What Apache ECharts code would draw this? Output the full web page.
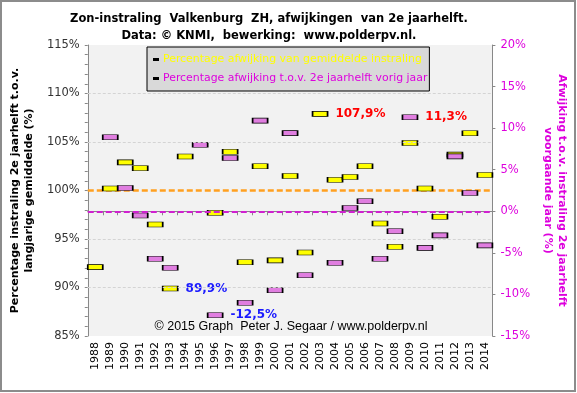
<!DOCTYPE html>
<html>
<head>
<meta charset="utf-8">
<script src="https://cdn.jsdelivr.net/npm/echarts@6/dist/echarts.min.js"></script>
<style>
html,body{margin:0;padding:0;background:#ffffff;}
#chart{width:577px;height:393px;}
</style>
</head>
<body>
<div id="chart"></div>
<script>
const years = ['1988','1989','1990','1991','1992','1993','1994','1995','1996','1997','1998','1999','2000','2001','2002','2003','2004','2005','2006','2007','2008','2009','2010','2011','2012','2013','2014'];
// Percentage instraling 2e jaarhelft t.o.v. langjarig gemiddelde (%)
const yellowVals = [92.1,100.2,102.9,102.3,96.5,89.9,103.5,111.7,97.7,104.0,92.6,102.5,92.8,101.5,93.6,107.9,101.1,101.4,102.5,96.6,94.2,104.9,100.2,97.3,103.7,105.9,101.6];
// Afwijking t.o.v. 2e jaarhelft vorig jaar (%)
const pinkVals = [null,8.9,2.8,-0.5,-5.7,-6.8,15.1,8.0,-12.5,6.4,-11.0,10.9,-9.5,9.4,-7.7,15.3,-6.2,0.4,1.2,-5.7,-2.4,11.3,-4.4,-2.9,6.6,2.2,-4.1];
const legendNames = ['Percentage afwijking van gemiddelde instraling','Percentage afwijking t.o.v. 2e jaarhelft vorig jaar'];
const leftTicks = [85,90,95,100,105,110,115];
const rightTicks = [-15,-10,-5,0,5,10,15,20];
const gridValues = [90,95,105,110];
const yellowAnnot = {'2003':{text:'107,9%',color:'#ff0000'}, '1993':{text:'89,9%',color:'#1a1aff'}};
const pinkAnnot = {'2009':{text:'11,3%',color:'#ff0000'}, '1996':{text:'-12,5%',color:'#1a1aff'}};
const titleText = 'Zon-instraling  Valkenburg  ZH, afwijkingen  van 2e jaarhelft.\nData: \u00a9 KNMI,  bewerking:  www.polderpv.nl.';
const copyrightText = '\u00a9 2015 Graph  Peter J. Segaar / www.polderpv.nl';

function buildData(vals, annot){
  return vals.map((v,i)=>{
    const item = {value: v};
    const a = annot[years[i]];
    if (a) {
      item.label = {show:true, position:'right', distance:7, formatter:a.text, color:a.color,
        fontWeight:'bold', fontSize:12, fontFamily:'DejaVu Sans'};
    }
    return item;
  });
}

const chart = echarts.init(document.getElementById('chart'), null, {renderer:'canvas'});
const font = 'DejaVu Sans';
const option = {
  animation:false,
  backgroundColor:'#ffffff',
  textStyle:{fontFamily:font},
  title:{
    text:titleText, left:264, top:6, textAlign:'center',
    textStyle:{fontFamily:font, fontWeight:'bold', fontSize:11.5, color:'#000', lineHeight:17}
  },
  legend:{
    orient:'vertical', left:147, top:47, z:10,
    backgroundColor:'#d9d9d9', borderColor:'#000', borderWidth:1,
    padding:[6,2,6,6], itemGap:6, itemWidth:6, itemHeight:3,
    icon:'rect',
    data:[
      {name:legendNames[0], itemStyle:{color:'#000', borderWidth:0}, textStyle:{color:'#ffff00'}},
      {name:legendNames[1], itemStyle:{color:'#000', borderWidth:0}, textStyle:{color:'#dd00dd'}}
    ],
    textStyle:{fontFamily:font, fontSize:10.9, lineHeight:13, padding:[0,0,0,-1]}
  },
  grid:{left:73, right:69, top:45, bottom:57, show:true, backgroundColor:'#f2f2f2', borderWidth:0},
  xAxis:{
    type:'category', data:years, boundaryGap:true,
    axisLine:{lineStyle:{color:'#888', width:1}},
    axisTick:{show:true, length:4, lineStyle:{color:'#888'}},
    axisLabel:{rotate:90, interval:0, margin:6, color:'#000', fontSize:11, fontFamily:font},
    splitLine:{show:false}
  },
  yAxis:[
    {
      type:'value', min:85, max:115, interval:5, position:'left',
      name:'Percentage instraling 2e jaarhelft t.o.v.\nlangjarige gemiddelde (%)',
      nameLocation:'middle', nameGap:47, nameRotate:90,
      nameTextStyle:{fontFamily:font, fontWeight:'bold', fontSize:11, color:'#000', lineHeight:14},
      axisLine:{show:true, lineStyle:{color:'#888'}},
      axisTick:{show:true, length:3, lineStyle:{color:'#888'}},
      minorTick:{show:true, splitNumber:5, length:3, lineStyle:{color:'#888'}},
      axisLabel:{formatter:'{value}%', color:'#333', fontSize:11.5, margin:8, fontFamily:font},
      splitLine:{show:false}
    },
    {
      type:'value', min:-15, max:20, interval:5, position:'right',
      name:'Afwijking t.o.v. instraling 2e jaarhelft\nvoorgaande jaar (%)',
      nameLocation:'middle', nameGap:36, nameRotate:-90,
      nameTextStyle:{fontFamily:font, fontWeight:'bold', fontSize:11, color:'#dd00dd', lineHeight:14},
      axisLine:{show:true, lineStyle:{color:'#888'}},
      axisTick:{show:true, length:3, lineStyle:{color:'#888'}},
      axisLabel:{formatter:'{value}%', color:'#dd00dd', fontSize:11.5, margin:8, fontFamily:font},
      splitLine:{show:false}
    }
  ],
  series:[
    {
      name:'grid', type:'line', data:[], z:1, silent:true,
      markLine:{silent:true, symbol:'none', label:{show:false},
        lineStyle:{color:'#d4d4d4', type:[3,2], width:1},
        data:gridValues.map(v=>({yAxis:v}))}
    },
    {
      name:legendNames[0], type:'scatter', yAxisIndex:0, z:3,
      symbol:'rect', symbolSize:[15,5],
      itemStyle:{color:'#ffff00', borderColor:'#000', borderWidth:1, opacity:1},
      data:buildData(yellowVals, yellowAnnot),
      markLine:{silent:true, symbol:'none', label:{show:false}, z:2,
        lineStyle:{color:'#ffa020', type:[6,3], width:2.5},
        data:[{yAxis:100}]}
    },
    {
      name:legendNames[1], type:'scatter', yAxisIndex:1, z:3,
      symbol:'rect', symbolSize:[15,5],
      itemStyle:{color:'#e07ee0', borderColor:'#000', borderWidth:1, opacity:1},
      data:buildData(pinkVals, pinkAnnot),
      markLine:{silent:true, symbol:'none', label:{show:false}, z:4,
        lineStyle:{color:'#d020d0', type:[6,3], width:2},
        data:[{yAxis:0}]}
    }
  ],
  graphic:[
    {type:'text', x:291, y:327, z:10, style:{text:copyrightText, textAlign:'center', textVerticalAlign:'middle',
      fill:'#000', font:'12.5px "Liberation Sans"'}},
    {type:'rect', shape:{x:1, y:1, width:574, height:390}, z:-1, style:{fill:null, stroke:'#8c8c8c', lineWidth:2}}
  ]
};
chart.setOption(option);
</script>
</body>
</html>
